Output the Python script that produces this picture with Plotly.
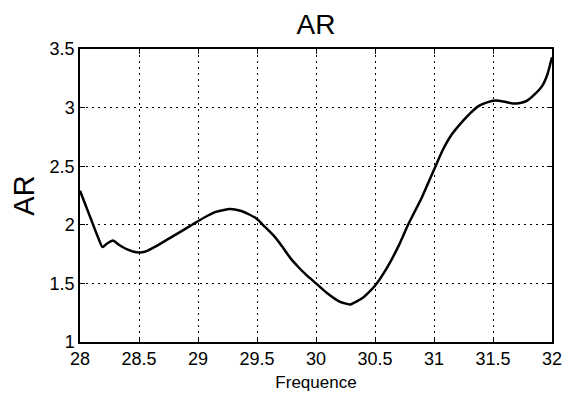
import plotly.graph_objects as go

freq = [28.00, 28.05, 28.10, 28.15, 28.19, 28.23, 28.28, 28.33, 28.40, 28.48,
        28.55, 28.65, 28.75, 28.85, 28.95, 29.05, 29.15, 29.27, 29.36, 29.43,
        29.50, 29.55, 29.64, 29.71, 29.78, 29.85, 29.92, 30.00, 30.09, 30.20,
        30.29, 30.40, 30.50, 30.60, 30.70, 30.78, 30.90, 31.00, 31.07, 31.15,
        31.24, 31.31, 31.38, 31.45, 31.52, 31.60, 31.67, 31.73, 31.79, 31.85,
        31.92, 31.96, 32.00]
ar = [2.29, 2.16, 2.03, 1.90, 1.81, 1.84, 1.865, 1.83, 1.79, 1.765,
      1.77, 1.82, 1.88, 1.94, 2.00, 2.06, 2.11, 2.135, 2.12, 2.09,
      2.05, 2.00, 1.91, 1.82, 1.72, 1.64, 1.57, 1.50, 1.42, 1.345,
      1.32, 1.38, 1.48, 1.63, 1.82, 2.00, 2.24, 2.47, 2.63, 2.77,
      2.88, 2.955, 3.015, 3.045, 3.06, 3.05, 3.035, 3.04, 3.06, 3.11,
      3.19, 3.28, 3.43]

x_ticks = [28, 28.5, 29, 29.5, 30, 30.5, 31, 31.5, 32]
x_labels = ["28", "28.5", "29", "29.5", "30", "30.5", "31", "31.5", "32"]
y_ticks = [1, 1.5, 2, 2.5, 3, 3.5]
y_labels = ["1", "1.5", "2", "2.5", "3", "3.5"]

font = "Liberation Sans, Arial, sans-serif"

fig = go.Figure()
fig.add_trace(go.Scatter(x=freq, y=ar, mode="lines",
                         line=dict(color="black", width=2.5, shape="spline", smoothing=0.5),
                         showlegend=False))

axis_common = dict(showline=True, linecolor="black", linewidth=1.5, mirror="ticks",
                   ticks="inside", ticklen=5, tickcolor="black", tickwidth=1,
                   showgrid=True, gridcolor="black", griddash="2px,4px", gridwidth=1,
                   zeroline=False, automargin=False,
                   tickfont=dict(family=font, size=18, color="black"))

fig.update_xaxes(range=[28, 32], tickvals=x_ticks, ticktext=x_labels,
                 title=dict(text="Frequence", font=dict(family=font, size=17, color="black"), standoff=8),
                 **axis_common)
fig.update_yaxes(range=[1, 3.5], tickvals=y_ticks, ticktext=y_labels,
                 title=dict(text="AR", font=dict(family=font, size=29, color="black"), standoff=12),
                 **axis_common)

fig.update_layout(
    width=574, height=394,
    margin=dict(l=72, r=30, t=41, b=60),
    paper_bgcolor="white", plot_bgcolor="white",
    title=dict(text="AR", x=308 / 574, xanchor="center", y=0.958, yanchor="middle",
               font=dict(family=font, size=28, color="black")),
)

fig.write_html("out.html")
